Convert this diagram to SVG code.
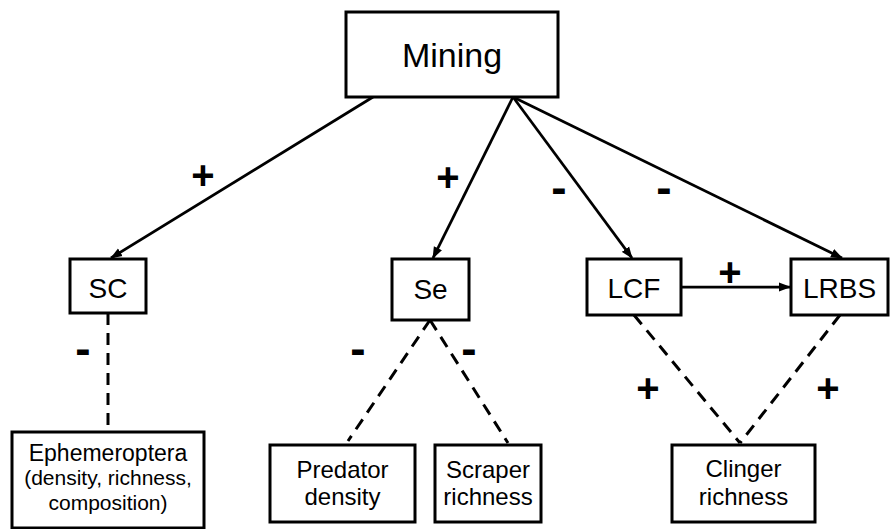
<svg xmlns="http://www.w3.org/2000/svg" width="890" height="529" viewBox="0 0 890 529">
<defs>
<marker id="ah" markerUnits="userSpaceOnUse" markerWidth="12" markerHeight="10" refX="11" refY="5" orient="auto">
<path d="M0,0.5 L12,5 L0,9.5 Z" fill="#000"/>
</marker>
<style>
.box{fill:#fff;stroke:#000;stroke-width:3}
.t{font-family:"Liberation Sans",Arial,sans-serif;fill:#000;text-anchor:middle}
.arr{stroke:#000;stroke-width:2.75;fill:none;marker-end:url(#ah)}
.dash{stroke:#000;stroke-width:3;fill:none;stroke-dasharray:12 8}
.sign{font-family:"Liberation Sans",Arial,sans-serif;font-weight:bold;font-size:40px;fill:#000;text-anchor:middle}
.minus{font-family:"Liberation Sans",Arial,sans-serif;font-weight:bold;font-size:46px;fill:#000;text-anchor:middle}
</style>
</defs>
<rect width="890" height="529" fill="#fff"/>
<g id="connectors">
<line class="arr" x1="373" y1="97" x2="111" y2="258"/>
<line class="arr" x1="513" y1="97" x2="433" y2="258"/>
<line class="arr" x1="513" y1="97" x2="632" y2="258"/>
<line class="arr" x1="513" y1="97" x2="842" y2="258"/>
<line class="arr" x1="681" y1="287" x2="790" y2="287"/>
<line class="dash" x1="108" y1="313" x2="108" y2="432"/>
<line class="dash" x1="430" y1="320" x2="348" y2="441"/>
<line class="dash" x1="430" y1="320" x2="508" y2="443"/>
<line class="dash" x1="634" y1="315" x2="740" y2="443"/>
<line class="dash" x1="840" y1="315" x2="740" y2="443"/>
<text class="sign" x="203" y="189">+</text>
<text class="sign" x="448" y="191">+</text>
<text class="minus" x="559" y="203">-</text>
<text class="minus" x="664" y="203">-</text>
<text class="sign" x="730" y="286">+</text>
<text class="minus" x="83" y="364">-</text>
<text class="minus" x="358" y="364">-</text>
<text class="minus" x="469" y="364">-</text>
<text class="sign" x="648" y="402">+</text>
<text class="sign" x="828" y="402">+</text>
</g>
<g id="mining">
<rect class="box" x="346" y="12" width="212" height="85"/>
<text class="t" x="452" y="67" font-size="34">Mining</text>
</g>
<g id="sc">
<rect class="box" x="70" y="259" width="76" height="54"/>
<text class="t" x="108" y="298" font-size="28">SC</text>
</g>
<g id="se">
<rect class="box" x="392" y="259" width="77" height="61"/>
<text class="t" x="430.5" y="299" font-size="28">Se</text>
</g>
<g id="lcf">
<rect class="box" x="587" y="259" width="94" height="56"/>
<text class="t" x="634" y="298" font-size="28">LCF</text>
</g>
<g id="lrbs">
<rect class="box" x="791" y="259" width="97" height="56"/>
<text class="t" x="839.5" y="298" font-size="28">LRBS</text>
</g>
<g id="ephemeroptera">
<rect class="box" x="12" y="432" width="192" height="96"/>
<text class="t" x="108" y="461" font-size="23">Ephemeroptera</text>
<text class="t" x="108" y="485" font-size="21">(density, richness,</text>
<text class="t" x="108" y="510" font-size="21">composition)</text>
</g>
<g id="predator">
<rect class="box" x="270" y="445" width="145" height="77"/>
<text class="t" x="342.5" y="478" font-size="24">Predator</text>
<text class="t" x="342.5" y="505" font-size="24">density</text>
</g>
<g id="scraper">
<rect class="box" x="435" y="445" width="106" height="77"/>
<text class="t" x="488" y="478" font-size="24">Scraper</text>
<text class="t" x="488" y="505" font-size="24">richness</text>
</g>
<g id="clinger">
<rect class="box" x="672" y="445" width="143" height="77"/>
<text class="t" x="743.5" y="477" font-size="24">Clinger</text>
<text class="t" x="743.5" y="505" font-size="24">richness</text>
</g>
</svg>
